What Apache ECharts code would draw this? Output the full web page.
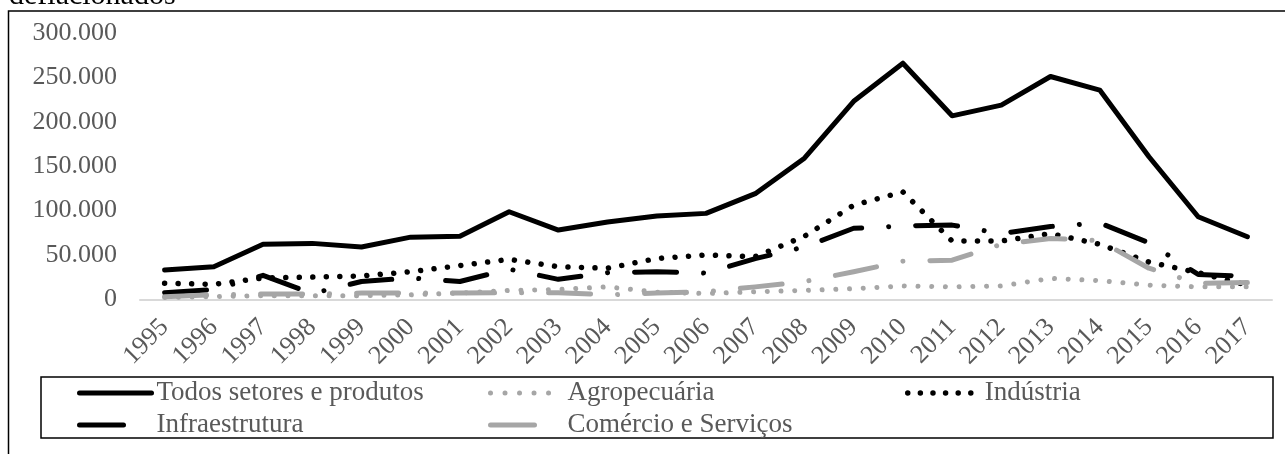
<!DOCTYPE html>
<html>
<head>
<meta charset="utf-8">
<script src="https://cdn.jsdelivr.net/npm/echarts@6/dist/echarts.min.js"></script>
<style>
  html, body { margin: 0; padding: 0; background: #fff; }
  #chart { width: 1285px; height: 454px; }
</style>
</head>
<body>
<div id="chart"></div>
<script>
// Anos (eixo das categorias)
const years = ['1995','1996','1997','1998','1999','2000','2001','2002','2003','2004','2005',
               '2006','2007','2008','2009','2010','2011','2012','2013','2014','2015','2016','2017'];

// Valores deflacionados por setor
const todosSetores = [33000, 36700, 62000, 63000, 59000, 70000, 71000, 98600, 78000, 87000, 93800,
                      96800, 119000, 159000, 223000, 266000, 206700, 218800, 251000, 235700, 160600, 93000, 70500];
const agropecuaria = [2000, 3000, 4000, 4000, 4000, 5000, 7000, 10000, 11000, 14000, 8000,
                      6500, 8500, 10000, 12000, 15000, 14000, 15000, 23500, 21000, 16000, 14000, 14000];
const industria    = [18000, 16900, 24000, 25000, 26300, 31000, 38000, 45000, 36700, 35000, 46000,
                      50000, 48000, 71000, 106000, 121000, 65600, 65600, 74000, 62000, 42000, 30000, 16000];
const infraestrutura = [7500, 11000, 27000, 6500, 20000, 24000, 20000, 34000, 22500, 30000, 31000,
                        29500, 45800, 59000, 80000, 82500, 83600, 74000, 82000, 86000, 63700, 28000, 26000];
const comercioServicos = [3000, 5000, 6000, 6000, 7000, 7000, 7000, 7500, 7500, 5000, 7000,
                          8600, 14000, 20000, 31000, 43000, 44000, 62000, 68600, 66000, 35000, 18000, 19000];

// Marcas do eixo de valores
const yMin = 0, yMax = 300000, yStep = 50000;

const seriesNames = ['Todos setores e produtos', 'Agropecuária', 'Indústria', 'Infraestrutura', 'Comércio e Serviços'];

const FONT = '"Liberation Serif", "Times New Roman", serif';
const BLACK = '#000000';
const GRAY = '#a6a6a6';
const LABEL = '#595959';

// Padrões de traço
const dotsIndustria = [0.01, 13.5];
const dotsAgro = [0.01, 13.7];
const longDashDot = [42, 27, 0.01, 27];

function fmtThousands(v) {
  return String(v).replace(/\B(?=(\d{3})+(?!\d))/g, '.');
}

function lineSeries(name, data, color, type, width) {
  return {
    name: name,
    type: 'line',
    data: data,
    symbol: 'none',
    smooth: false,
    lineStyle: { color: color, width: width, type: type, cap: 'round', join: 'round' },
    itemStyle: { color: color },
    emphasis: { disabled: true },
    animation: false
  };
}

function legendItem(name, left, top, color, type, width) {
  return {
    data: [name],
    left: left,
    top: top,
    orient: 'horizontal',
    padding: 0,
    itemWidth: 72,
    itemHeight: 14,
    selectedMode: false,
    lineStyle: { color: color, width: width, type: type, cap: 'round' },
    itemStyle: { opacity: 0, borderWidth: 0 },
    textStyle: { fontFamily: FONT, fontSize: 27, color: LABEL, lineHeight: 30 }
  };
}

const chart = echarts.init(document.getElementById('chart'), null, { renderer: 'canvas' });

chart.setOption({
  backgroundColor: '#ffffff',
  animation: false,
  grid: { left: 140, right: 13, top: 33, bottom: 154.7, containLabel: false },
  xAxis: {
    type: 'category',
    data: years,
    boundaryGap: true,
    axisLine: { show: true, lineStyle: { color: '#d9d9d9', width: 2 } },
    axisTick: { show: false },
    splitLine: { show: false },
    axisLabel: { interval: 0, rotate: 45, margin: 24, fontFamily: FONT, fontSize: 26, color: LABEL }
  },
  yAxis: {
    type: 'value',
    min: yMin, max: yMax, interval: yStep,
    axisLine: { show: false },
    axisTick: { show: false },
    splitLine: { show: false },
    axisLabel: { margin: 23, fontFamily: FONT, fontSize: 26, color: LABEL, formatter: fmtThousands }
  },
  legend: [
    legendItem(seriesNames[0], 77, 378, BLACK, 'solid', 5),
    legendItem(seriesNames[1], 488, 378, GRAY, [0.01, 14.5], 5),
    legendItem(seriesNames[2], 905, 378, BLACK, [0.01, 12.6], 5.5),
    legendItem(seriesNames[3], 77, 410, BLACK, [44, 200], 5),
    legendItem(seriesNames[4], 488, 410, GRAY, [44, 200], 5)
  ],
  graphic: [
    { type: 'rect', silent: true, shape: { x: 8.5, y: 11, width: 1400, height: 600 },
      style: { fill: 'none', stroke: BLACK, lineWidth: 1.5 } },
    { type: 'rect', silent: true, shape: { x: 41, y: 377, width: 1232, height: 61 },
      style: { fill: 'none', stroke: BLACK, lineWidth: 1.5 } },
    { type: 'text', silent: true, x: 9, y: -4,
      style: { text: 'deflacionados', font: '30px ' + FONT, fill: BLACK, verticalAlign: 'middle', align: 'left' } }
  ],
  series: [
    lineSeries(seriesNames[0], todosSetores, BLACK, 'solid', 5),
    lineSeries(seriesNames[1], agropecuaria, GRAY, dotsAgro, 5),
    lineSeries(seriesNames[2], industria, BLACK, dotsIndustria, 5.5),
    lineSeries(seriesNames[3], infraestrutura, BLACK, longDashDot, 5),
    lineSeries(seriesNames[4], comercioServicos, GRAY, longDashDot, 5)
  ]
});
</script>
</body>
</html>
